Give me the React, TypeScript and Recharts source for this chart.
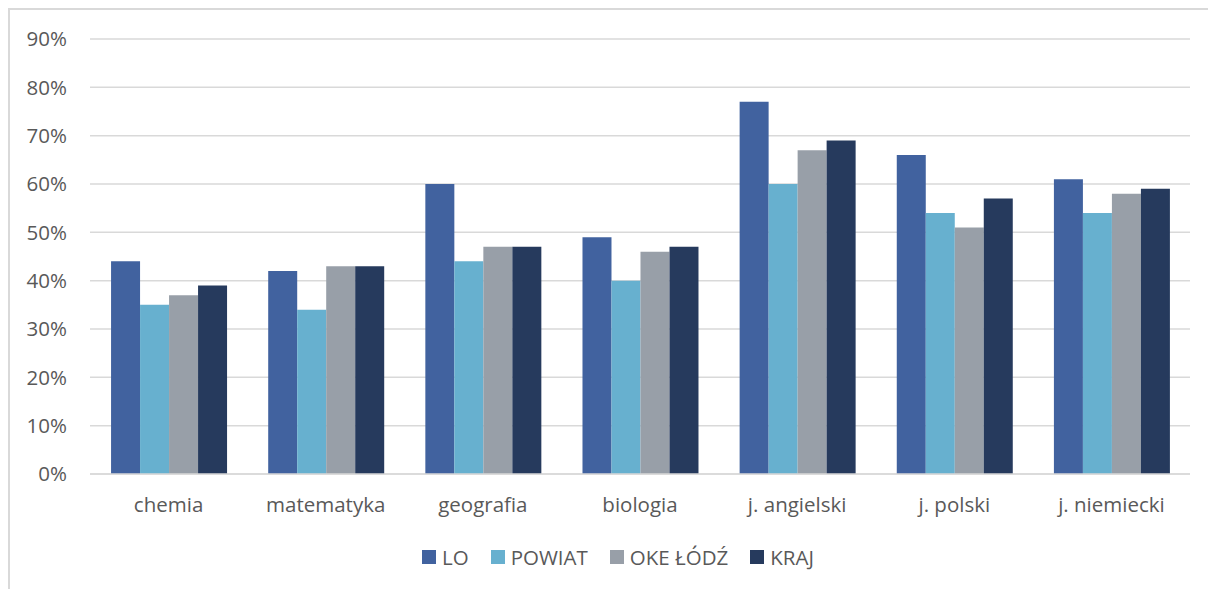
import React from 'react'
import { BarChart, Bar, XAxis, YAxis, CartesianGrid, Legend } from 'recharts'

const subjects = ['chemia', 'matematyka', 'geografia', 'biologia', 'j. angielski', 'j. polski', 'j. niemiecki']
const lo = [44, 42, 60, 49, 77, 66, 61]
const powiat = [35, 34, 44, 40, 60, 54, 54]
const oke = [37, 43, 47, 46, 67, 51, 58]
const kraj = [39, 43, 47, 47, 69, 57, 59]
const yTicks = [0, 10, 20, 30, 40, 50, 60, 70, 80, 90]

const SERIES = [
  { key: 'LO', color: '#41629F', values: lo },
  { key: 'POWIAT', color: '#67B0CF', values: powiat },
  { key: 'OKE ŁÓDŹ', color: '#989FA8', values: oke },
  { key: 'KRAJ', color: '#263A5D', values: kraj },
]

const data = subjects.map((name, i) => {
  const row: Record<string, string | number> = { name }
  SERIES.forEach((s) => {
    row[s.key] = s.values[i]
  })
  return row
})

const FONT = '"Open Sans", sans-serif'
const TEXT = '#595959'
const GRID = '#d9d9d9'
const FS = 20.5

function LegendRow() {
  return (
    <div style={{ display: 'flex', alignItems: 'center', height: 16, paddingLeft: 422, fontFamily: FONT, fontSize: FS, color: TEXT }}>
      {SERIES.map((s) => (
        <div key={s.key} style={{ display: 'flex', alignItems: 'center', marginRight: 22 }}>
          <span style={{ width: 14, height: 14, background: s.color, marginRight: 6, display: 'inline-block' }} />
          <span style={{ lineHeight: '16px' }}>{s.key}</span>
        </div>
      ))}
    </div>
  )
}

export default function App() {
  return (
    <div style={{ position: 'absolute', left: 0, top: 0, width: 1208, height: 589, background: '#fff', overflow: 'hidden' }}>
      <div
        style={{
          position: 'absolute',
          left: 8,
          top: 8,
          width: 1300,
          height: 700,
          borderTop: `2px solid ${GRID}`,
          borderLeft: `2px solid ${GRID}`,
        }}
      />
      <BarChart
        width={1208}
        height={589}
        data={data}
        margin={{ top: 39, right: 18, left: 0, bottom: 0 }}
        barCategoryGap="13.4%"
        barGap={0}
      >
        <CartesianGrid vertical={false} stroke={GRID} strokeWidth={1.5} />
        <XAxis
          dataKey="name"
          height={75}
          tickSize={0}
          tickMargin={23}
          axisLine={{ stroke: GRID, strokeWidth: 1.5 }}
          tick={{ fill: TEXT, fontSize: FS, fontFamily: FONT }}
          interval={0}
        />
        <YAxis
          width={90}
          domain={[0, 90]}
          ticks={yTicks}
          tickFormatter={(v) => `${v}%`}
          axisLine={false}
          tickLine={false}
          tickSize={0}
          tickMargin={23}
          tick={{ fill: TEXT, fontSize: FS, fontFamily: FONT }}
        />
        <Legend verticalAlign="bottom" align="left" height={40} content={() => <LegendRow />} />
        {SERIES.map((s) => (
          <Bar key={s.key} dataKey={s.key} fill={s.color} isAnimationActive={false} />
        ))}
      </BarChart>
    </div>
  )
}
